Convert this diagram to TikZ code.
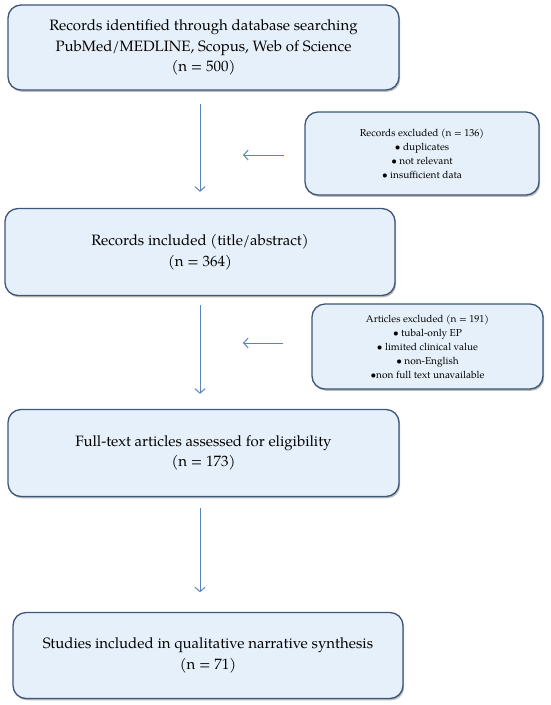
\documentclass[tikz,border=0pt]{standalone}
\usepackage{fontspec}
\setmainfont{TeX Gyre Pagella}
\usetikzlibrary{arrows.meta,shadows}
\definecolor{boxfill}{HTML}{E6F0FA}
\definecolor{boxdraw}{HTML}{3E5678}
\definecolor{arrcol}{HTML}{5B84B8}
\tikzset{
  mainbox/.style={draw=boxdraw, line width=1.3pt, fill=boxfill, rounded corners=13pt,
    align=center, inner sep=0pt, font=\fontsize{15}{20.5}\selectfont,
    drop shadow={shadow xshift=1.2pt, shadow yshift=-1.8pt, fill=black!45, opacity=0.6}},
  sidebox/.style={mainbox, font=\fontsize{10.1}{14}\selectfont},
  arr/.style={draw=arrcol, line width=1pt, -{Straight Barb[length=4.5pt,width=10pt]}}
}
\begin{document}
\begin{tikzpicture}[x=1pt,y=-1pt]
\useasboundingbox (0,0) rectangle (550,705);
\node[mainbox, minimum width=391pt, minimum height=85pt] (b1) at (203.5,47.5)
  {Records identified through database searching\\PubMed/MEDLINE, Scopus, Web of Science\\(n = 500)};
\node[sidebox, minimum width=234pt, minimum height=83pt] (b2) at (422,153.5)
  {Records excluded (n = 136)\\\textbullet\ duplicates\\\textbullet\ not relevant\\\textbullet\ insufficient data};
\node[mainbox, minimum width=390pt, minimum height=87pt] (b3) at (200,252)
  {Records included (title/abstract)\\(n = 364)};
\node[sidebox, minimum width=231pt, minimum height=85pt] (b4) at (427.5,346.5)
  {Articles excluded (n = 191)\\\textbullet\ tubal-only EP\\\textbullet\ limited clinical value\\\textbullet\ non-English\\\textbullet non full text unavailable};
\node[mainbox, minimum width=391pt, minimum height=87pt] (b5) at (203.5,453)
  {Full-text articles assessed for eligibility\\(n = 173)};
\node[mainbox, minimum width=390pt, minimum height=86pt] (b6) at (208,655.5)
  {Studies included in qualitative narrative synthesis\\(n = 71)};
\draw[arr, shorten <=13pt, shorten >=16pt] (b1.south -| b3.north) -- (b3.north);
\draw[arr, shorten <=9pt, shorten >=15pt] (b3.south) -- (b5.north -| b3.south);
\draw[arr, shorten <=11pt, shorten >=19.5pt] (b5.south -| b3.south) -- (b6.north -| b3.south);
\draw[arr, shorten <=20pt, shorten >=43pt] ([yshift=-1.5pt]b2.west) -- ([yshift=-1.5pt]b2.west -| b3.north);
\draw[arr, shorten <=28pt, shorten >=43pt] ([yshift=3.5pt]b4.west) -- ([yshift=3.5pt]b4.west -| b3.north);
\end{tikzpicture}
\end{document}
